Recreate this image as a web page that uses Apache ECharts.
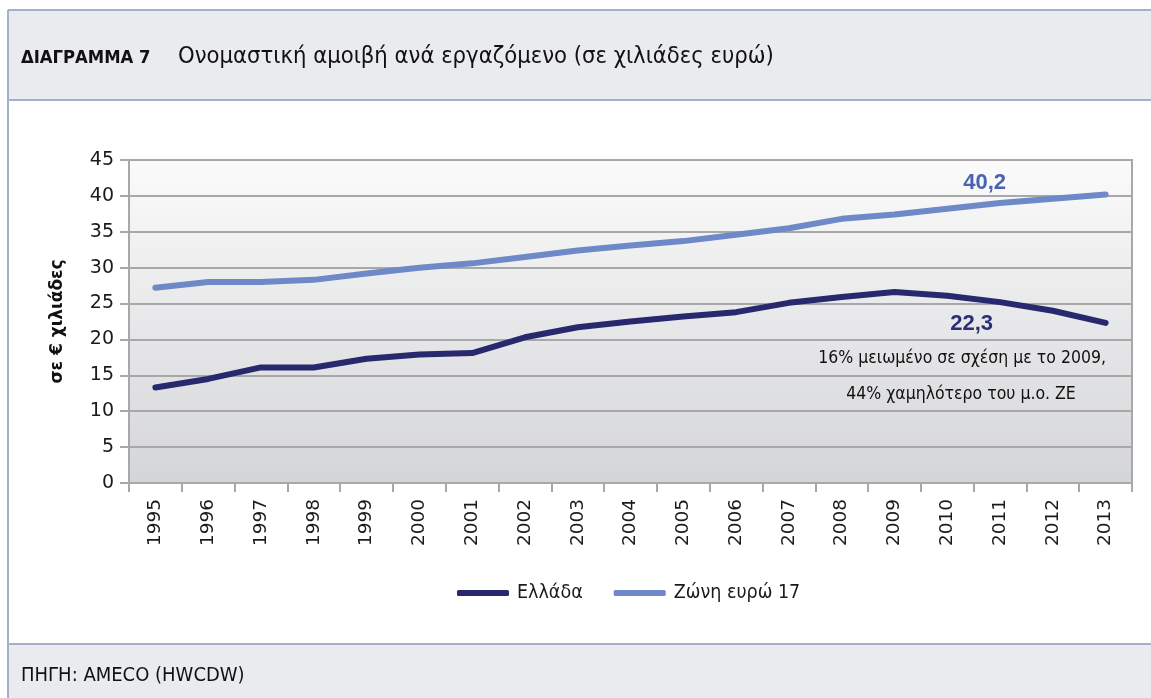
<!DOCTYPE html>
<html>
<head>
<meta charset="utf-8">
<script src="https://cdn.jsdelivr.net/npm/echarts@6/dist/echarts.min.js"></script>
<style>
html,body{margin:0;padding:0;background:#fff;}
#c{width:1151px;height:698px;}
</style>
</head>
<body>
<div id="c"></div>
<script>
const years = ['1995','1996','1997','1998','1999','2000','2001','2002','2003','2004','2005','2006','2007','2008','2009','2010','2011','2012','2013'];
const greece = [13.3, 14.5, 16.1, 16.1, 17.3, 17.9, 18.1, 20.3, 21.7, 22.5, 23.2, 23.8, 25.1, 25.9, 26.6, 26.1, 25.2, 24.0, 22.3];
const euroArea = [27.2, 28.0, 28.0, 28.3, 29.2, 30.0, 30.6, 31.5, 32.4, 33.1, 33.7, 34.6, 35.5, 36.8, 37.4, 38.2, 39.0, 39.6, 40.2];
const seriesNames = ['Ελλάδα', 'Ζώνη ευρώ 17'];
const yTicks = {min: 0, max: 45, interval: 5};
const titleBold = 'ΔΙΑΓΡΑΜΜΑ 7';
const titleText = 'Ονομαστική αμοιβή ανά εργαζόμενο (σε χιλιάδες ευρώ)';
const yAxisName = 'σε € χιλιάδες';
const noteLines = ['16% μειωμένο σε σχέση με το 2009,', '44% χαμηλότερο του μ.ο. ΖΕ'];
const sourceText = 'ΠΗΓΗ: AMECO (HWCDW)';

const COND = '"DejaVu Sans Condensed", "DejaVu Sans", sans-serif';
const SANS = '"DejaVu Sans", Verdana, sans-serif';
const ARIAL = '"Liberation Sans", Arial, sans-serif';
const bandFill = '#E9EBEF';
const frameCol = '#A3B0C9';

const chart = echarts.init(document.getElementById('c'), null, {renderer: 'canvas'});
const last = years.length - 1;
const fmt = p => String(p.value).replace('.', ',');

chart.setOption({
  animation: false,
  backgroundColor: '#ffffff',
  grid: {
    left: 129, right: 19, top: 160, bottom: 215,
    show: true,
    borderColor: '#A8A8A8', borderWidth: 2,
    backgroundColor: new echarts.graphic.LinearGradient(0, 0, 0, 1, [
      {offset: 0, color: '#FBFBFB'},
      {offset: 1, color: '#D4D5D8'}
    ])
  },
  legend: {
    data: seriesNames,
    left: 457, top: 583, padding: 0,
    itemWidth: 52, itemHeight: 6, itemGap: 31,
    icon: 'roundRect',
    textStyle: {fontFamily: COND, fontSize: 19.5, color: '#1a1a1a', padding: [0, 0, 0, 3]}
  },
  xAxis: {
    type: 'category',
    data: years,
    boundaryGap: true,
    axisLine: {lineStyle: {color: '#A8A8A8', width: 2}},
    axisTick: {show: true, length: 9, lineStyle: {color: '#A8A8A8', width: 2}},
    axisLabel: {rotate: 90, margin: 16, fontFamily: SANS, fontSize: 18.5, color: '#1a1a1a', interval: 0}
  },
  yAxis: {
    type: 'value',
    min: yTicks.min, max: yTicks.max, interval: yTicks.interval,
    name: yAxisName,
    nameLocation: 'middle',
    nameGap: 63,
    nameRotate: 90,
    nameTextStyle: {fontFamily: SANS, fontWeight: 'bold', fontSize: 17, color: '#111'},
    axisLine: {show: true, lineStyle: {color: '#A8A8A8', width: 2}},
    axisTick: {show: true, length: 9, lineStyle: {color: '#A8A8A8', width: 2}},
    axisLabel: {margin: 15, fontFamily: SANS, fontSize: 19, color: '#1a1a1a'},
    splitLine: {lineStyle: {color: '#A8A8A8', width: 2}}
  },
  series: [
    {
      name: seriesNames[0], type: 'line',
      data: greece.map((v, i) => i === last ? {
        value: v,
        label: {show: true, position: 'left', distance: 5, offset: [-107, 1], formatter: fmt,
          fontFamily: ARIAL, fontWeight: 'bold', fontSize: 22, color: '#2B2F78'}
      } : v),
      symbol: 'circle', symbolSize: 1, showSymbol: true,
      lineStyle: {color: '#27286E', width: 6, cap: 'round', join: 'round'}, itemStyle: {color: '#27286E'}
    },
    {
      name: seriesNames[1], type: 'line',
      data: euroArea.map((v, i) => i === last ? {
        value: v,
        label: {show: true, position: 'left', distance: 5, offset: [-94, -12], formatter: fmt,
          fontFamily: ARIAL, fontWeight: 'bold', fontSize: 22, color: '#4A62B1'}
      } : v),
      symbol: 'circle', symbolSize: 1, showSymbol: true,
      lineStyle: {color: '#6F88C8', width: 6, cap: 'round', join: 'round'}, itemStyle: {color: '#6F88C8'}
    }
  ],
  graphic: [
    {type: 'rect', shape: {x: 8, y: 10, width: 1160, height: 90}, style: {fill: bandFill, stroke: null}, z: -10},
    {type: 'line', shape: {x1: 8, y1: 10, x2: 1151, y2: 10}, style: {stroke: frameCol, lineWidth: 2}},
    {type: 'line', shape: {x1: 8, y1: 100, x2: 1151, y2: 100}, style: {stroke: frameCol, lineWidth: 2}},
    {type: 'rect', shape: {x: 8, y: 644, width: 1160, height: 60}, style: {fill: bandFill, stroke: null}, z: -10},
    {type: 'line', shape: {x1: 8, y1: 644, x2: 1151, y2: 644}, style: {stroke: frameCol, lineWidth: 2}},
    {type: 'line', shape: {x1: 8, y1: 10, x2: 8, y2: 698}, style: {stroke: frameCol, lineWidth: 2}},
    {type: 'text', x: 21, y: 58, style: {text: titleBold, font: 'bold 18.3px ' + COND, fill: '#111', textVerticalAlign: 'middle'}},
    {type: 'text', x: 178, y: 57, style: {text: titleText, font: '23.6px ' + COND, fill: '#111', textVerticalAlign: 'middle'}},
    {type: 'text', x: 21, y: 676, style: {text: sourceText, font: '20px ' + COND, fill: '#111', textVerticalAlign: 'middle'}},
    {type: 'text', x: 1106, y: 358, style: {text: noteLines[0], font: '17.5px ' + COND, fill: '#111', textAlign: 'right', textVerticalAlign: 'middle'}},
    {type: 'text', x: 961, y: 394, style: {text: noteLines[1], font: '17.5px ' + COND, fill: '#111', textAlign: 'center', textVerticalAlign: 'middle'}}
  ]
});
</script>
</body>
</html>
